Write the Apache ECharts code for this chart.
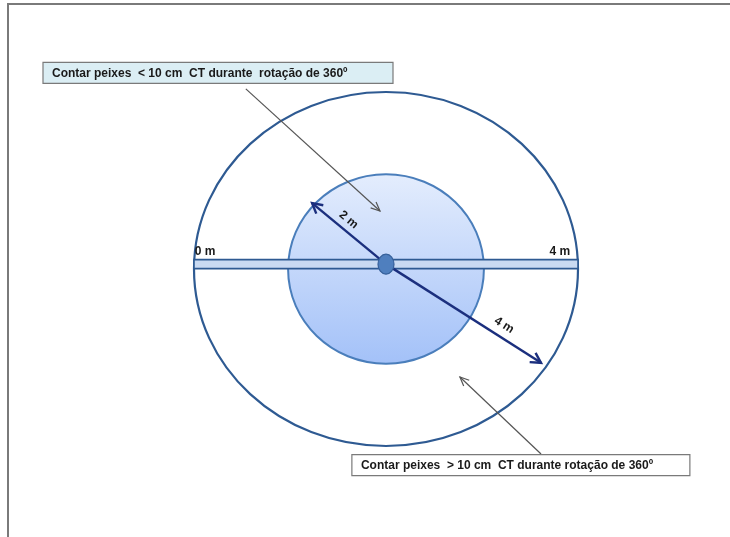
<!DOCTYPE html>
<html><head><meta charset="utf-8">
<script src="https://cdn.jsdelivr.net/npm/echarts@6/dist/echarts.min.js"></script>
<style>html,body{margin:0;padding:0;background:#fff}#c{width:730px;height:537px}</style>
</head><body><div id="c"></div><script>
// ---- Data (diagram units: metres) ----
const ringNames = ['outer', 'inner'];
const ringRadiusX = [4, 2.04];
const ringRadiusY = [4, 2.14];
const ringCenter = [0, 0];
const hubPoint = [0, 0.11];
const rulerRange = [-4, 4];
const rulerLabels = ['0 m', '4 m'];
const rulerLabelX = [-3.77, 3.62];
const rulerLabelY = [0.38, 0.38];
const arrowEndX = [-1.54, 3.23];
const arrowEndY = [1.49, -2.12];
const arrowLabels = ['2 m', '4 m'];
const arrowLabelX = [-0.78, 2.46];
const arrowLabelY = [1.11, -1.27];
const calloutTexts = ['Contar peixes  < 10 cm  CT durante  rotação de 360º', 'Contar peixes  > 10 cm  CT durante rotação de 360º'];
const calloutBoxX = [-3.5, 2.81];
const calloutBoxY = [4.43, -4.43];
const pointerFromX = [-2.92, 3.23];
const pointerFromY = [4.07, -4.18];
const pointerToX = [-0.125, 1.54];
const pointerToY = [1.31, -2.44];

const chart = echarts.init(document.getElementById('c'), null, {renderer: 'canvas'});
const FONT = '"Liberation Sans", Arial, sans-serif';

function arrowHead(p0, p1, len, half, style, open) {
  const dx = p1[0] - p0[0], dy = p1[1] - p0[1];
  const L = Math.sqrt(dx * dx + dy * dy);
  const ux = dx / L, uy = dy / L, nx = -uy, ny = ux;
  const b = [p1[0] - ux * len, p1[1] - uy * len];
  const a1 = [b[0] + nx * half, b[1] + ny * half];
  const a2 = [b[0] - nx * half, b[1] - ny * half];
  if (open) return {type: 'polyline', shape: {points: [a1, p1, a2]}, style: style};
  return {type: 'polygon', shape: {points: [a1, p1, a2]}, style: style};
}

const option = {
  animation: false,
  backgroundColor: '#fff',
  grid: {left: 194, right: 152, top: 92, bottom: 91},
  xAxis: {type: 'value', min: -4, max: 4, show: false},
  yAxis: {type: 'value', min: -4, max: 4, show: false},
  graphic: [
    {type: 'polyline', shape: {points: [[8, 537], [8, 4], [730, 4]]}, style: {stroke: '#7a7a7a', lineWidth: 2, fill: null}}
  ],
  series: [
    { // rings
      type: 'custom', clip: false,
      data: ringNames.map((n, i) => [ringCenter[0], ringCenter[1], ringRadiusX[i], ringRadiusY[i]]),
      renderItem: function (params, api) {
        const c = api.coord([api.value(0), api.value(1)]);
        const s = api.size([api.value(2), api.value(3)]);
        const inner = params.dataIndex === 1;
        return {
          type: 'ellipse',
          shape: {cx: c[0], cy: c[1], rx: s[0], ry: s[1]},
          style: inner ? {
            fill: new echarts.graphic.LinearGradient(0, 0, 0, 1, [
              {offset: 0, color: '#e4edfd'}, {offset: 1, color: '#a3c1f8'}]),
            stroke: '#4a7ebb', lineWidth: 2
          } : {fill: null, stroke: '#2e5a92', lineWidth: 2.2}
        };
      }
    },
    { // ruler bar
      type: 'custom', clip: false,
      data: [[rulerRange[0], rulerRange[1], hubPoint[1]]],
      renderItem: function (params, api) {
        const a = api.coord([api.value(0), api.value(2)]);
        const b = api.coord([api.value(1), api.value(2)]);
        return {type: 'rect', shape: {x: a[0], y: a[1] - 4.5, width: b[0] - a[0], height: 9},
          style: {fill: '#c9daf2', stroke: '#2e5a92', lineWidth: 1.6}};
      }
    },
    { // gray callout pointers
      type: 'custom', clip: false,
      data: pointerFromX.map((x, i) => [x, pointerFromY[i], pointerToX[i], pointerToY[i]]),
      renderItem: function (params, api) {
        const p0 = api.coord([api.value(0), api.value(1)]);
        const p1 = api.coord([api.value(2), api.value(3)]);
        const st = {stroke: '#555555', lineWidth: 1.2, fill: null};
        return {type: 'group', children: [
          {type: 'line', shape: {x1: p0[0], y1: p0[1], x2: p1[0], y2: p1[1]}, style: st},
          arrowHead(p0, p1, 9, 4, st, true)
        ]};
      }
    },
    { // navy radius arrows
      type: 'custom', clip: false,
      data: arrowEndX.map((x, i) => [hubPoint[0], hubPoint[1], x, arrowEndY[i]]),
      renderItem: function (params, api) {
        const p0 = api.coord([api.value(0), api.value(1)]);
        const p1 = api.coord([api.value(2), api.value(3)]);
        const st = {stroke: '#1b2f7e', lineWidth: 2.4, fill: null, lineJoin: 'miter'};
        return {type: 'group', children: [
          {type: 'line', shape: {x1: p0[0], y1: p0[1], x2: p1[0], y2: p1[1]}, style: st},
          arrowHead(p0, p1, 10, 5.5, st, true)
        ]};
      }
    },
    { // hub dot
      type: 'custom', clip: false,
      data: [hubPoint],
      renderItem: function (params, api) {
        const c = api.coord([api.value(0), api.value(1)]);
        return {type: 'ellipse', shape: {cx: c[0], cy: c[1], rx: 8, ry: 10},
          style: {fill: '#4f7fbe', stroke: '#36609a', lineWidth: 1.2}};
      }
    },
    { // ruler labels
      type: 'custom', clip: false,
      data: rulerLabels.map((t, i) => [rulerLabelX[i], rulerLabelY[i], t]),
      renderItem: function (params, api) {
        const c = api.coord([api.value(0), api.value(1)]);
        return {type: 'text', x: c[0], y: c[1],
          style: {text: rulerLabels[params.dataIndex], font: 'bold 12px ' + FONT, fill: '#1a1a1a', align: 'center', verticalAlign: 'middle'}};
      }
    },
    { // arrow labels
      type: 'custom', clip: false,
      data: arrowLabels.map((t, i) => [arrowLabelX[i], arrowLabelY[i], arrowEndX[i], arrowEndY[i]]),
      renderItem: function (params, api) {
        const c = api.coord([api.value(0), api.value(1)]);
        const h = api.coord(hubPoint);
        const e = api.coord([api.value(2), api.value(3)]);
        let ang = Math.atan2(e[1] - h[1], e[0] - h[0]);
        if (ang > Math.PI / 2) ang -= Math.PI; else if (ang < -Math.PI / 2) ang += Math.PI;
        return {type: 'text', x: c[0], y: c[1], rotation: -ang,
          style: {text: arrowLabels[params.dataIndex], font: 'bold 12px ' + FONT, fill: '#1a1a1a', align: 'center', verticalAlign: 'middle'}};
      }
    },
    { // callout boxes
      type: 'custom', clip: false,
      data: calloutTexts.map((t, i) => [calloutBoxX[i], calloutBoxY[i]]),
      renderItem: function (params, api) {
        const c = api.coord([api.value(0), api.value(1)]);
        const first = params.dataIndex === 0;
        const w = first ? 350 : 338, hgt = 21;
        return {type: 'group', children: [
          {type: 'rect', shape: {x: c[0] - w / 2, y: c[1] - hgt / 2, width: w, height: hgt},
            style: {fill: first ? '#dbeef4' : '#ffffff', stroke: '#7a7a7a', lineWidth: 1.2}},
          {type: 'text', x: c[0] - w / 2 + 9, y: c[1] + 0.5,
            style: {text: calloutTexts[params.dataIndex], font: 'bold 12px ' + FONT, fill: '#1a1a1a', align: 'left', verticalAlign: 'middle'}}
        ]};
      }
    }
  ]
};
chart.setOption(option);
</script></body></html>
